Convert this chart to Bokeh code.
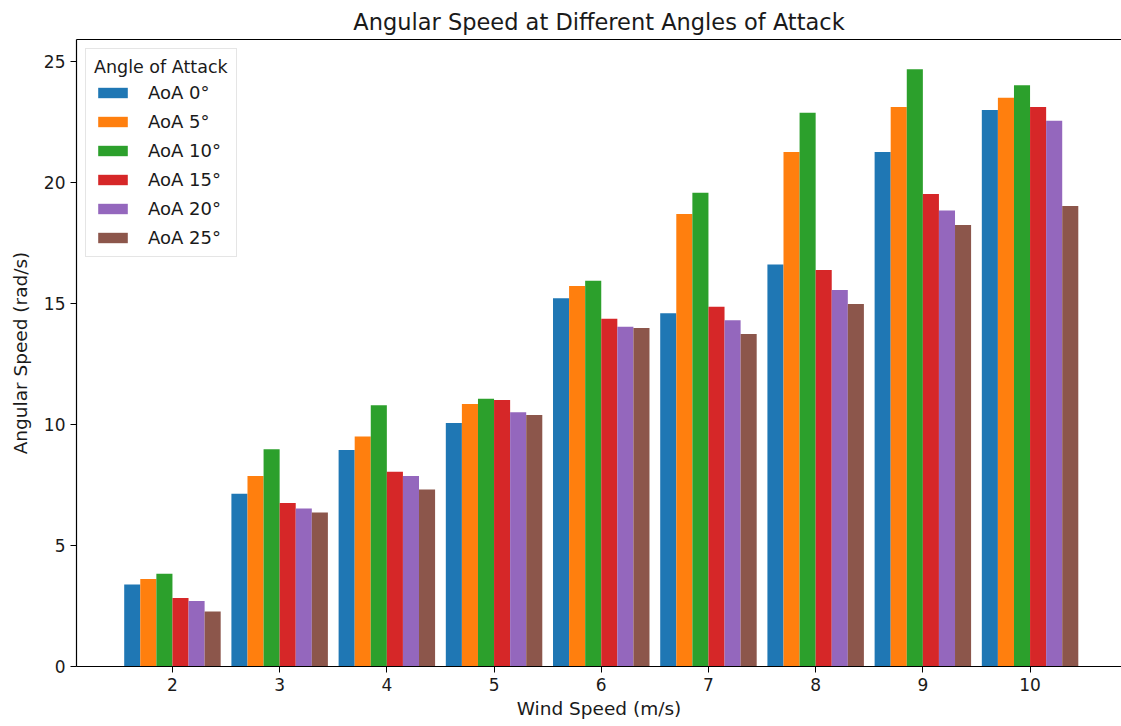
from bokeh.plotting import figure
from bokeh.models import Range1d, FixedTicker, LinearAxis, Legend
from bokeh.embed import file_html
from bokeh.resources import INLINE
import numpy as np

# Wind speeds (m/s) and angular speeds (rad/s) per angle of attack
wind_speeds = [2, 3, 4, 5, 6, 7, 8, 9, 10]
aoa_labels = ["AoA 0°", "AoA 5°", "AoA 10°", "AoA 15°", "AoA 20°", "AoA 25°"]
aoa_0 = [3.39, 7.14, 8.94, 10.06, 15.21, 14.59, 16.61, 21.26, 22.99]
aoa_5 = [3.61, 7.87, 9.50, 10.84, 15.72, 18.69, 21.26, 23.12, 23.50]
aoa_10 = [3.83, 8.98, 10.79, 11.06, 15.94, 19.57, 22.88, 24.67, 24.01]
aoa_15 = [2.83, 6.75, 8.05, 11.01, 14.37, 14.86, 16.38, 19.52, 23.12]
aoa_20 = [2.71, 6.53, 7.87, 10.50, 14.04, 14.30, 15.55, 18.84, 22.55]
aoa_25 = [2.27, 6.36, 7.31, 10.39, 13.98, 13.74, 14.98, 18.24, 19.02]
y_ticks = [0, 5, 10, 15, 20, 25]

series = [aoa_0, aoa_5, aoa_10, aoa_15, aoa_20, aoa_25]
colors = ["#1f77b4", "#ff7f0e", "#2ca02c", "#d62728", "#9467bd", "#8c564b"]
bar_w = 0.15

FONT = "DejaVu Sans"
TXT = "#1a1a1a"

ws = np.array(wind_speeds, dtype=float)
x_lo = ws.min() - 3 * bar_w - 0.05 * (ws.max() - ws.min() + 6 * bar_w)
y_hi = 1.05 * max(max(s) for s in series)

p = figure(
    width=1121, height=726,
    x_range=Range1d(x_lo, 10.853), y_range=Range1d(0, y_hi),
    output_backend="svg", toolbar_location=None,
    min_border_left=76, min_border_right=0, min_border_top=39, min_border_bottom=60,
    background_fill_color="white", border_fill_color="white",
)
p.outline_line_color = None
p.xgrid.visible = False
p.ygrid.visible = False

p.title.text = "Angular Speed at Different Angles of Attack"
p.title.align = "center"
p.title.text_font = FONT
p.title.text_font_size = "22.5px"
p.title.text_font_style = "normal"
p.title.text_color = TXT

renderers = []
for i, (vals, col, lab) in enumerate(zip(series, colors, aoa_labels)):
    r = p.vbar(x=ws + (i - 2.5) * bar_w, top=vals, width=bar_w,
               fill_color=col, line_color=None)
    renderers.append((lab, [r]))

for ax in (p.xaxis[0], p.yaxis[0]):
    ax.axis_line_color = "black"
    ax.axis_line_width = 1.2
    ax.major_tick_line_color = "black"
    ax.major_tick_out = 6
    ax.major_tick_in = 0
    ax.minor_tick_line_color = None
    ax.major_label_text_font = FONT
    ax.major_label_text_font_size = "17px"
    ax.major_label_text_color = TXT
    ax.axis_label_text_font = FONT
    ax.axis_label_text_font_size = "18.5px"
    ax.axis_label_text_font_style = "normal"
    ax.axis_label_text_color = TXT

p.xaxis[0].ticker = FixedTicker(ticks=wind_speeds)
p.yaxis[0].ticker = FixedTicker(ticks=y_ticks)
p.xaxis[0].axis_label = "Wind Speed (m/s)"
p.yaxis[0].axis_label = "Angular Speed (rad/s)"
p.xaxis[0].axis_label_standoff = 4
p.yaxis[0].axis_label_standoff = 10

# top spine
top = LinearAxis(ticker=FixedTicker(ticks=[]), axis_line_color="black", axis_line_width=1.2,
                 major_tick_line_color=None, minor_tick_line_color=None)
p.add_layout(top, "above")

legend = Legend(items=renderers, location="top_left")
legend.title = "Angle of Attack"
legend.title_text_font = FONT
legend.title_text_font_size = "17.5px"
legend.title_text_font_style = "normal"
legend.title_text_color = TXT
legend.title_standoff = 5
legend.label_text_font = FONT
legend.label_text_font_size = "18px"
legend.label_text_color = TXT
legend.glyph_width = 37
legend.glyph_height = 13
legend.label_height = 21
legend.spacing = 8
legend.label_standoff = 17
legend.padding = 8
legend.margin = 9
legend.border_line_color = "#cccccc"
legend.background_fill_alpha = 0.8
p.add_layout(legend, "center")

open("out.html", "w").write(file_html(p, INLINE))
